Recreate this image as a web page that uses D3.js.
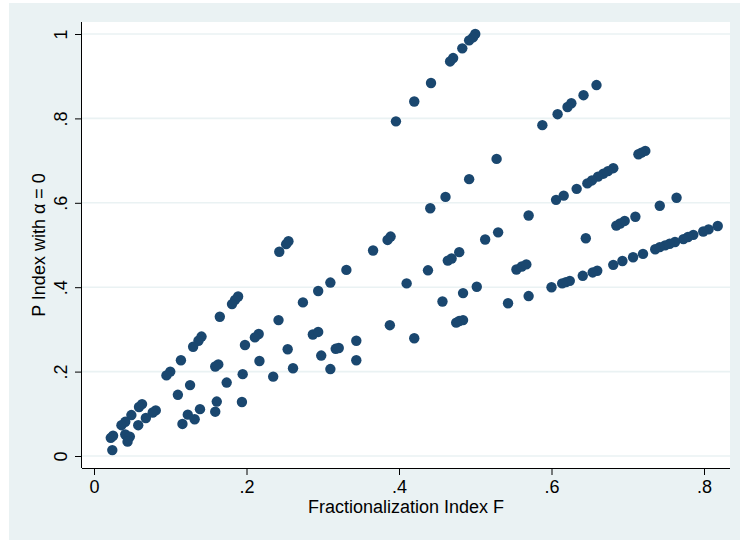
<!DOCTYPE html>
<html>
<head>
<meta charset="utf-8">
<script src="https://cdn.jsdelivr.net/npm/d3@7"></script>
<style>
  html, body { margin: 0; padding: 0; background: #ffffff; }
  svg { display: block; font-family: "Liberation Sans", Arial, Helvetica, sans-serif; }
</style>
</head>
<body>
<svg id="chart" width="740" height="540"></svg>
<script>
// Fractionalization index F (x) and polarization index P with alpha = 0 (y)
const fracF = [
  0.500,0.497,0.492,0.483,0.471,0.467,0.442,0.420,0.396,0.255,0.252,0.243,0.189,0.185,0.181,0.165,0.141,0.137,0.130,0.114,0.100,0.095,0.063,0.059,0.049,0.041,0.036,0.025,0.022,
  0.659,0.642,0.626,0.621,0.608,0.588,0.389,0.385,0.366,0.331,0.310,0.294,0.274,0.242,0.216,0.211,0.198,0.163,0.159,0.126,0.110,0.081,0.077,0.068,0.041,0.047,0.044,0.024,
  0.723,0.718,0.714,0.681,0.674,0.668,0.661,0.653,0.647,0.633,0.616,0.606,0.570,0.530,0.513,
  0.528,0.492,0.461,0.441,
  0.479,0.469,0.464,0.438,0.410,0.388,0.420,0.457,0.484,0.502,0.484,0.479,0.475,0.543,0.570,0.554,0.561,0.567,
  0.645,0.764,0.742,0.710,0.696,0.690,0.685,
  0.818,0.806,0.799,0.786,0.779,0.773,0.762,0.755,0.749,0.742,0.736,0.720,0.707,0.693,0.681,0.660,0.654,0.641,0.624,0.619,0.614,0.600,
  0.344,0.344,0.317,0.321,0.298,0.310,0.287,0.294,0.254,0.261,0.235,0.217,0.195,0.174,0.194,0.161,0.159,0.139,0.123,0.132,0.116,0.058
];
const pIndex = [
  1.000,0.992,0.985,0.966,0.943,0.935,0.884,0.840,0.793,0.509,0.502,0.484,0.378,0.370,0.360,0.330,0.283,0.273,0.259,0.227,0.200,0.191,0.123,0.116,0.097,0.081,0.073,0.048,0.043,
  0.879,0.855,0.836,0.827,0.810,0.784,0.520,0.512,0.487,0.441,0.411,0.391,0.364,0.322,0.289,0.281,0.263,0.217,0.212,0.168,0.145,0.108,0.103,0.090,0.051,0.046,0.034,0.014,
  0.723,0.719,0.715,0.682,0.675,0.669,0.662,0.653,0.646,0.633,0.617,0.607,0.570,0.530,0.513,
  0.704,0.656,0.614,0.587,
  0.483,0.468,0.463,0.440,0.409,0.310,0.279,0.366,0.386,0.401,0.322,0.320,0.316,0.362,0.379,0.442,0.449,0.454,
  0.516,0.612,0.593,0.567,0.557,0.551,0.546,
  0.545,0.537,0.532,0.524,0.519,0.514,0.507,0.503,0.499,0.495,0.490,0.479,0.471,0.462,0.453,0.439,0.435,0.427,0.415,0.412,0.409,0.400,
  0.273,0.227,0.254,0.256,0.238,0.206,0.288,0.294,0.253,0.208,0.188,0.225,0.194,0.174,0.128,0.129,0.105,0.111,0.098,0.087,0.076,0.073
];

const xTickValues = [0, 0.2, 0.4, 0.6, 0.8];
const xTickLabels = ["0", ".2", ".4", ".6", ".8"];
const yTickValues = [0, 0.2, 0.4, 0.6, 0.8, 1];
const yTickLabels = ["0", ".2", ".4", ".6", ".8", "1"];
const xTitle = "Fractionalization Index F";
const yTitle = "P Index with \u03B1 = 0";

const points = fracF.map((f, i) => ({ f: f, p: pIndex[i] }));

const svg = d3.select("#chart");
const bgColor = "#eaf2f3";
const markColor = "#1a476f";

// plot region
const plot = { left: 82, right: 730, top: 22, bottom: 468 };

const x = d3.scaleLinear().domain([0, 0.8]).range([94, 704]);
const y = d3.scaleLinear().domain([0, 1]).range([456, 34]);

// outer graph region
svg.append("rect")
  .attr("x", 9).attr("y", 3)
  .attr("width", 731).attr("height", 537)
  .attr("fill", bgColor);

svg.append("rect")
  .attr("x", plot.left).attr("y", plot.top)
  .attr("width", plot.right - plot.left).attr("height", plot.bottom - plot.top)
  .attr("fill", "#ffffff");

// horizontal grid lines
svg.append("g")
  .selectAll("line")
  .data(yTickValues)
  .join("line")
  .attr("x1", plot.left).attr("x2", plot.right)
  .attr("y1", d => y(d)).attr("y2", d => y(d))
  .attr("stroke", bgColor)
  .attr("stroke-width", 1.6);

// markers
svg.append("g")
  .selectAll("circle")
  .data(points)
  .join("circle")
  .attr("cx", d => x(d.f))
  .attr("cy", d => y(d.p))
  .attr("r", 5.2)
  .attr("fill", markColor);

// x axis
const xAxis = svg.append("g")
  .attr("transform", `translate(0,${plot.bottom})`)
  .call(d3.axisBottom(x)
    .tickValues(xTickValues)
    .tickFormat((d, i) => xTickLabels[i])
    .tickSize(7)
    .tickPadding(5));
xAxis.select(".domain")
  .attr("d", `M${plot.left},0.5H${plot.right}`)
  .attr("stroke", "#000");
xAxis.selectAll(".tick line").attr("stroke", "#000");
xAxis.selectAll(".tick text")
  .attr("fill", "#000")
  .style("font-size", "18px")
  .style("font-family", "'Liberation Sans', Arial, sans-serif");

// y axis
const yAxis = svg.append("g")
  .attr("transform", `translate(${plot.left},0)`)
  .call(d3.axisLeft(y)
    .tickValues(yTickValues)
    .tickFormat((d, i) => yTickLabels[i])
    .tickSize(7)
    .tickPadding(0));
yAxis.select(".domain")
  .attr("d", `M-0.5,${plot.top}V${plot.bottom}`)
  .attr("stroke", "#000");
yAxis.selectAll(".tick line").attr("stroke", "#000");
yAxis.selectAll(".tick text")
  .attr("fill", "#000")
  .attr("x", null).attr("dy", null)
  .attr("text-anchor", "middle")
  .attr("transform", "translate(-15,0) rotate(-90)")
  .style("font-size", "18px")
  .style("font-family", "'Liberation Sans', Arial, sans-serif");

// axis titles
svg.append("text")
  .attr("x", (plot.left + plot.right) / 2)
  .attr("y", 513)
  .attr("text-anchor", "middle")
  .style("font-size", "18px")
  .text(xTitle);

svg.append("text")
  .attr("transform", `translate(45,${(plot.top + plot.bottom) / 2}) rotate(-90)`)
  .attr("text-anchor", "middle")
  .style("font-size", "18px")
  .text(yTitle);
</script>
</body>
</html>
